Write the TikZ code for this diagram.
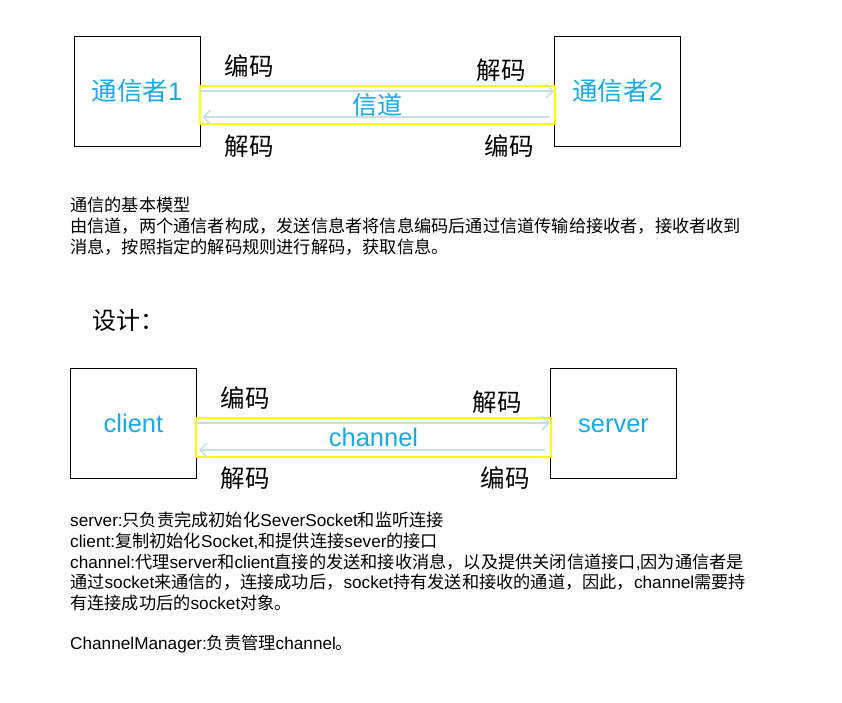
\documentclass[tikz,border=0pt]{standalone}
\usepackage{fontspec}
\setmainfont{Noto Sans CJK SC}
\newfontfamily\lat{Liberation Sans}
\usetikzlibrary{arrows.meta}
\definecolor{lblue}{RGB}{20,170,235}
\definecolor{arr}{RGB}{196,226,230}
\definecolor{yel}{RGB}{255,255,0}
\begin{document}
\begin{tikzpicture}[x=1pt,y=-1pt,
  box/.style={draw=black, line width=0.8pt, minimum width=126pt, minimum height=110pt, inner sep=0pt, text=lblue, font=\fontsize{25.5}{25.5}\selectfont},
  chan/.style={draw=yel, line width=1.2pt, minimum height=38pt, inner sep=0pt, text=lblue, font=\fontsize{25}{25}\selectfont},
  lab/.style={font=\fontsize{24.5}{24.5}\selectfont, text=black, inner sep=0pt},
  flow/.style={draw=arr, line width=1.5pt, -{Straight Barb[length=7pt,width=14pt]}},
  para/.style={anchor=west, inner sep=0pt, font=\fontsize{17.2}{21}\selectfont},
  parb/.style={anchor=west, inner sep=0pt, font=\fontsize{17.2}{21}\selectfont},
  lfont/.style={font=\fontsize{25.5}{25.5}\selectfont\lat, text height=18.5pt, text depth=0pt}]
\useasboundingbox (0,0) rectangle (842,702);
% first diagram
\node[box] (c1) at (137,91) {通信者{\lat 1}};
\node[box] (c2) at (617.5,91) {通信者{\lat 2}};
\node[chan, minimum width=355pt] (ch1) at (377.5,105) {信道};
\draw[flow] (c1.east |- 0,91) -- (c2.west |- 0,91);
\draw[flow] ([xshift=-5pt]c2.west |- 0,117) -- ([xshift=2pt]c1.east |- 0,117);
\node[lab] (e1) at (249,66) {编码};
\node[lab] (d1) at (501,70) {解码};
\node[lab] (d2) at (249,146) {解码};
\node[lab] (e2) at (509,146) {编码};
% text block 1
\node[para] (t1) at (70,205) {通信的基本模型};
\node[para] (t2) at (70,226) {由信道，两个通信者构成，发送信息者将信息编码后通过信道传输给接收者，接收者收到};
\node[para] (t3) at (70,247) {消息，按照指定的解码规则进行解码，获取信息。};
\node[anchor=west, inner sep=0pt, font=\fontsize{24}{24}\selectfont] (sj) at (92,320) {设计：};
% second diagram
\node[box, lfont] (cl) at (133.5,423.5) {client};
\node[box, lfont] (sv) at (613.5,423.5) {server};
\node[chan, lfont, minimum width=355pt, minimum height=39pt] (ch2) at (373.5,437.5) {channel};
\draw[flow] (cl.east |- 0,423) -- (sv.west |- 0,423);
\draw[flow] ([xshift=-5pt]sv.west |- 0,450) -- ([xshift=2pt]cl.east |- 0,450);
\node[lab] (e3) at (245,398) {编码};
\node[lab] (d3) at (497,402) {解码};
\node[lab] (d4) at (245,478) {解码};
\node[lab] (e4) at (505,478) {编码};
% text block 2
\node[parb] (s1) at (70,520) {{\lat server:}只负责完成初始化{\lat SeverSocket}和监听连接};
\node[parb] (s2) at (70,541) {{\lat client:}复制初始化{\lat Socket,}和提供连接{\lat sever}的接口};
\node[parb] (s3) at (70,562) {{\lat channel:}代理{\lat server}和{\lat client}直接的发送和接收消息，以及提供关闭信道接口{\lat ,}因为通信者是};
\node[parb] (s4) at (70,582) {通过{\lat socket}来通信的，连接成功后，{\lat socket}持有发送和接收的通道，因此，{\lat channel}需要持};
\node[parb] (s5) at (70,603) {有连接成功后的{\lat socket}对象。};
\node[parb] (s6) at (70,644) {{\lat ChannelManager:}负责管理{\lat channel}。};
\end{tikzpicture}
\end{document}
